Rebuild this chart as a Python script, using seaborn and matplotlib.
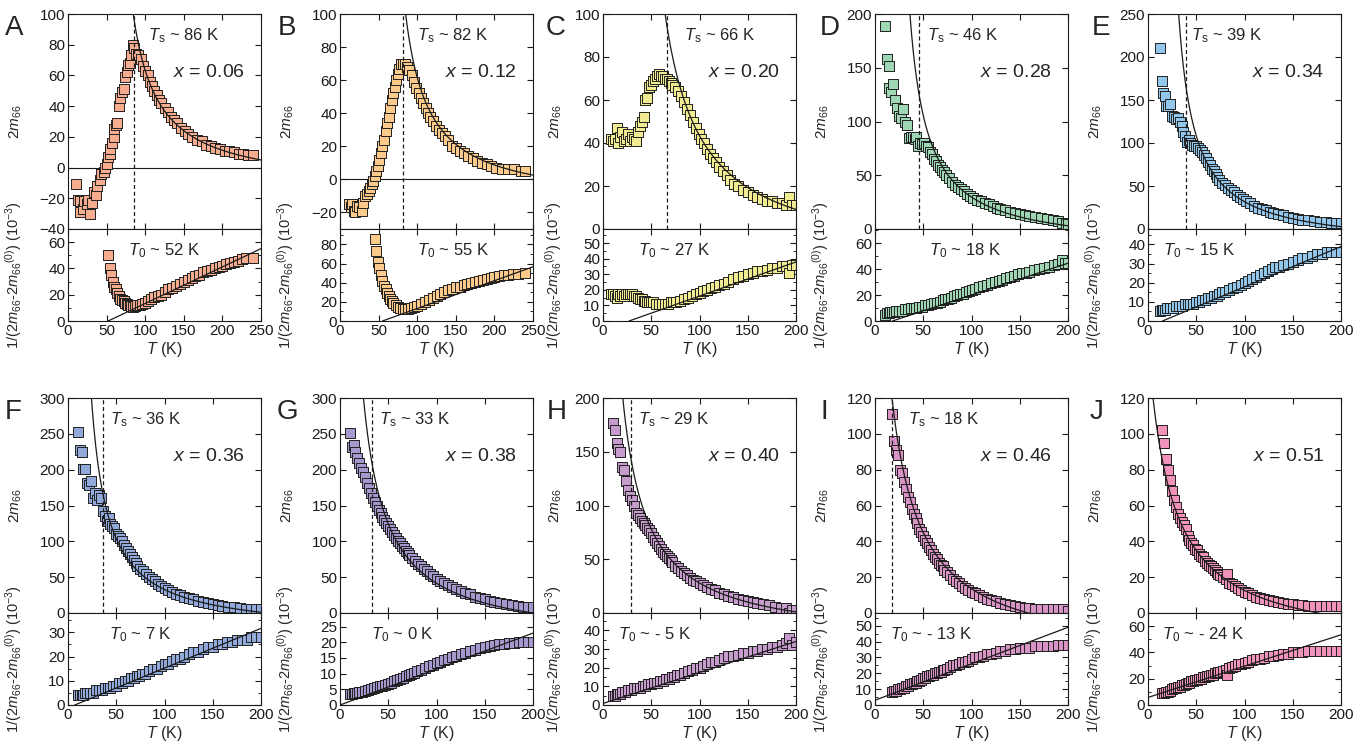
import numpy as np
import matplotlib
matplotlib.use("Agg")
import matplotlib.pyplot as plt
import seaborn as sns
from matplotlib.ticker import MultipleLocator

# ---------------- data ----------------
labels = ["A", "B", "C", "D", "E", "F", "G", "H", "I", "J"]
x_values = ["0.06", "0.12", "0.20", "0.28", "0.34", "0.36", "0.38", "0.40", "0.46", "0.51"]
Ts_values = [86, 82, 66, 46, 39, 36, 33, 29, 18, None]
T0_labels = ["52", "55", "27", "18", "15", "7", "0", "- 5", "- 13", "- 24"]

# Curie-Weiss fit parameters: 2m66 = m0 + C/(T - T0); lower line = slope*(T - T0)
fit_T0 = [52, 55, 27, 18, 15, 7, 0, -5, -13, -24]
fit_C = [3694, 3453, 4327, 3983, 4564, 5682, 8300, 5795, 4465, 4103]
fit_m0 = [-13.7, -15.1, -15.9, -18.9, -22, -28.4, -41.5, -27.3, -26, -20.5]
fit_slope = [0.278, 0.29, 0.219, 0.245, 0.21, 0.164, 0.1145, 0.166, 0.23, 0.2385]

# Panel A (x = 0.06)
A_T = [10, 13, 15, 16, 19, 21, 24, 26, 28, 31, 34, 36, 38, 41, 43, 46, 48, 50, 52, 54, 55, 57, 59, 60, 62, 64, 66, 68, 70, 72,
       74, 76, 78, 80, 82, 84, 86, 88, 91, 94, 97, 100, 103, 106, 109, 112, 115, 118, 121, 125, 129, 133, 137, 141, 146,
       151, 156, 161, 167, 173, 179, 185, 191, 197, 203, 209, 215, 221, 227, 233, 240]
A_up = [-11, -21, -22, -29, -27, -22, -24, -21, -30, -23, -16, -18, -12, -8, -4, -3, 0, 2, 7, 9, 12, 16, 20, 25, 28, 29, 40, 45,
        49, 51, 59, 62, 67, 68, 73, 80, 78, 74, 73, 71, 66, 63, 60, 56, 53, 50, 47, 44, 42, 39, 36, 33, 31, 29, 26, 24, 22,
        20, 18, 17, 15, 14, 13, 12, 11, 11, 10, 9, 9, 8, 8]
A_Tl = [52, 54, 56, 58, 60, 62, 64, 66, 68, 70, 72, 74, 76, 78, 80, 82, 84, 87, 90, 93, 96, 100, 104, 108, 112, 116, 120, 125,
        130, 135, 140, 145, 150, 155, 160, 165, 170, 175, 180, 185, 190, 195, 200, 205, 210, 215, 220, 225, 230, 240]
A_lo = [50, 40, 35, 30, 26, 24, 21, 19, 17, 16, 15, 14, 13, 12.5, 12, 11.5, 11, 11.5, 12, 12.5, 13, 14, 15, 16.5, 18, 19, 20,
        22, 24, 25, 27, 28, 30, 31, 33, 34, 35, 37, 38, 39, 40, 41, 42, 43, 44, 45, 46, 47, 48, 48]

# Panel B (x = 0.12)
B_T = [12, 14, 16, 18, 20, 22, 25, 28, 30, 32, 35, 37, 39, 41, 43, 45, 47, 49, 51, 53, 55, 57, 59, 61, 63, 65, 67, 69, 71, 73,
       75, 77, 79, 81, 84, 87, 90, 93, 96, 99, 102, 105, 108, 111, 114, 117, 120, 124, 128, 132, 136, 140, 145, 150, 155,
       160, 166, 172, 178, 184, 190, 196, 202, 210, 218, 226, 234, 240]
B_up = [-15, -17, -15, -19, -20, -16, -17, -19, -14, -10, -9, -7, -5, -3, -1, 2, 5, 8, 12, 16, 20, 24, 29, 34, 38, 43, 48, 52,
        56, 60, 64, 67, 70, 70, 70, 68, 66, 63, 59, 55, 52, 49, 46, 43, 40, 38, 35, 32, 30, 28, 26, 24, 20, 19, 17, 16, 14,
        13, 11, 10, 9, 8, 7, 6, 6, 6, 5, 5]
B_Tl = [45, 47, 49, 51, 53, 55, 57, 59, 61, 63, 65, 67, 69, 72, 75, 78, 81, 84, 88, 92, 96, 100, 105, 110, 115, 120, 125, 130,
        135, 140, 145, 150, 155, 160, 165, 170, 175, 180, 185, 190, 195, 200, 206, 212, 218, 224, 230, 240]
B_lo = [86, 73, 62, 55, 48, 42, 37, 33, 29, 26, 23, 21, 19, 17, 15, 14, 13, 13, 13, 14, 15, 16, 18, 20, 22, 24, 26, 28, 30, 32,
        33, 35, 36, 38, 39, 40, 41, 42, 43, 44, 45, 46, 47, 48, 48, 49, 49, 50]

# Panel C (x = 0.20)
C_T = [8, 10, 12, 14, 16, 18, 20, 22, 24, 26, 28, 30, 32, 34, 36, 38, 40, 42, 44, 46, 48, 50, 52, 54, 56, 58, 60, 62, 64, 66,
       68, 70, 72, 75, 78, 81, 84, 87, 90, 93, 96, 99, 102, 105, 108, 111, 114, 117, 120, 124, 128, 132, 136, 140, 145, 150,
       155, 160, 165, 170, 175, 180, 185, 190, 193, 196, 200]
C_up = [42, 41, 42, 47, 40, 43, 45, 41, 42, 44, 41, 43, 42, 41, 45, 48, 50, 52, 60, 61, 66, 67, 69, 70, 71, 72, 71, 71, 70, 70,
        69, 68, 67, 66, 64, 62, 59, 56, 53, 50, 47, 44, 42, 40, 37, 35, 33, 31, 29, 27, 25, 23, 21, 20, 18, 17, 16, 15, 14,
        13, 13, 12, 12, 11, 15, 11, 11]
C_Tl = [8, 10, 12, 14, 16, 18, 20, 22, 24, 26, 28, 30, 32, 34, 36, 38, 40, 42, 44, 46, 48, 50, 52, 55, 58, 61, 64, 67, 70, 73,
        76, 80, 84, 88, 92, 96, 100, 104, 108, 112, 116, 120, 125, 130, 135, 140, 145, 150, 155, 160, 165, 170, 175, 180,
        185, 190, 193, 196, 200]
C_lo = [17, 17, 16, 15, 17, 16, 17, 16, 17, 17, 17, 17, 16, 16, 15, 14, 14, 13, 13, 12, 12, 12, 12, 11, 11, 11, 11, 11, 12, 12,
        12, 13, 14, 15, 16, 17, 18, 19, 20, 21, 22, 23, 24, 25, 27, 28, 29, 30, 31, 32, 32, 33, 34, 34, 35, 35, 31, 36, 36]

# Panel D (x = 0.28)
D_T = [10, 12, 14, 15, 17, 19, 21, 23, 25, 27, 29, 31, 33, 35, 37, 39, 41, 43, 45, 47, 49, 51, 53, 55, 57, 59, 61, 63, 65, 67,
       69, 71, 74, 77, 80, 83, 86, 89, 92, 95, 98, 102, 106, 110, 114, 118, 122, 126, 130, 135, 140, 145, 150, 155, 160,
       166, 172, 178, 184, 190, 194, 198, 200]
D_up = [189, 158, 152, 131, 127, 135, 120, 113, 105, 103, 112, 100, 97, 85, 86, 86, 84, 86, 77, 80, 79, 80, 77, 76, 72, 70, 65,
        63, 60, 58, 55, 53, 50, 47, 44, 41, 39, 37, 35, 33, 31, 29, 27, 26, 24, 23, 21, 20, 19, 18, 16, 15, 14, 13, 12, 11,
        10, 9, 8, 7, 6, 5, 5]
D_Tl = [10, 12, 14, 16, 18, 20, 22, 25, 28, 31, 34, 37, 40, 43, 46, 49, 52, 55, 58, 61, 64, 67, 70, 73, 76, 79, 82, 85, 88, 91,
        94, 97, 100, 104, 108, 112, 116, 120, 124, 128, 132, 136, 140, 144, 148, 152, 156, 160, 165, 170, 175, 180, 185, 190,
        194, 197, 200]
D_lo = [5, 6, 6, 7, 7, 7, 8, 8, 8, 9, 9, 10, 10, 10, 11, 11, 12, 12, 13, 14, 14, 15, 16, 17, 17, 18, 19, 20, 21, 21, 22, 23, 24,
        25, 26, 27, 28, 29, 30, 31, 32, 33, 34, 35, 36, 37, 37, 38, 39, 40, 41, 42, 43, 44, 47, 45, 45]

# Panel E (x = 0.34)
E_T = [12, 14, 16, 18, 19, 21, 23, 25, 27, 29, 31, 33, 35, 36, 38, 40, 42, 44, 46, 48, 50, 52, 54, 56, 58, 60, 62, 64, 66, 68,
       70, 72, 74, 77, 80, 83, 86, 89, 92, 95, 98, 102, 106, 110, 114, 118, 122, 126, 130, 135, 140, 145, 150, 155, 160,
       166, 172, 178, 184, 190, 195, 200]
E_up = [210, 172, 158, 155, 143, 143, 145, 131, 130, 128, 129, 124, 120, 113, 108, 101, 104, 100, 98, 97, 96, 94, 92, 90, 86,
        82, 78, 74, 70, 67, 64, 60, 57, 54, 51, 48, 45, 43, 40, 37, 35, 32, 30, 27, 25, 23, 22, 20, 19, 17, 16, 14, 13, 12,
        11, 10, 9, 8, 8, 7, 7, 7]
E_Tl = [12, 14, 16, 18, 20, 23, 26, 29, 32, 35, 38, 41, 44, 47, 50, 53, 56, 59, 62, 65, 68, 71, 74, 77, 80, 84, 88, 92, 96, 100,
        104, 108, 112, 116, 120, 124, 128, 132, 136, 140, 145, 150, 155, 160, 165, 170, 175, 180, 185, 190, 195, 200]
E_lo = [5, 6, 6, 6, 7, 7, 7, 8, 8, 8, 9, 9, 9, 9, 10, 10, 11, 11, 12, 12, 13, 13, 14, 15, 15, 16, 17, 18, 19, 20, 21, 22, 23,
        24, 25, 26, 27, 28, 28, 29, 30, 31, 32, 33, 33, 34, 35, 35, 36, 36, 36, 36]

# Panel F (x = 0.36)
F_T = [10, 12, 14, 16, 18, 20, 22, 24, 26, 28, 30, 32, 34, 36, 38, 40, 42, 44, 46, 48, 50, 52, 54, 56, 58, 60, 62, 64, 66, 68,
       70, 72, 75, 78, 81, 84, 87, 90, 93, 96, 100, 104, 108, 112, 116, 120, 125, 130, 135, 140, 145, 150, 155, 160, 166,
       172, 178, 184, 190, 195, 200]
F_up = [252, 227, 224, 201, 201, 181, 178, 184, 160, 167, 157, 164, 160, 142, 135, 128, 132, 124, 121, 118, 110, 107, 104, 100,
        95, 91, 86, 82, 78, 74, 70, 66, 62, 58, 54, 50, 47, 44, 41, 38, 35, 32, 29, 27, 25, 23, 21, 19, 17, 15, 14, 12, 11,
        10, 9, 8, 7, 6, 6, 5, 5]
F_Tl = [10, 12, 14, 16, 18, 20, 23, 26, 29, 32, 35, 38, 41, 44, 47, 50, 53, 56, 59, 62, 65, 68, 71, 74, 77, 80, 84, 88, 92, 96,
        100, 104, 108, 112, 116, 120, 125, 130, 135, 140, 145, 150, 155, 160, 165, 170, 175, 180, 185, 190, 195, 200]
F_lo = [4, 4, 4, 4, 5, 5, 5, 5, 6, 6, 6, 7, 7, 7, 8, 8, 9, 9, 10, 10, 11, 11, 12, 12, 13, 13, 14, 15, 15, 16, 17, 17, 18, 19,
        19, 20, 21, 22, 22, 23, 24, 24, 25, 25, 26, 26, 27, 27, 27, 28, 28, 28]

# Panel G (x = 0.38)
G_T = [10, 12, 14, 16, 18, 20, 22, 24, 26, 28, 30, 32, 34, 36, 38, 40, 42, 44, 46, 48, 50, 52, 54, 56, 58, 60, 62, 64, 66, 68,
       70, 72, 75, 78, 81, 84, 87, 90, 93, 96, 100, 104, 108, 112, 116, 120, 125, 130, 135, 140, 145, 150, 155, 160, 166,
       172, 178, 184, 190, 195, 200]
G_up = [251, 232, 235, 224, 216, 209, 203, 197, 190, 182, 175, 168, 161, 155, 149, 144, 139, 134, 130, 125, 121, 117, 113, 109,
        105, 101, 98, 94, 91, 87, 84, 81, 77, 73, 69, 65, 62, 58, 55, 52, 48, 45, 42, 39, 36, 34, 31, 28, 26, 23, 21, 19, 17,
        16, 14, 12, 11, 10, 9, 9, 8]
G_Tl = [10, 12, 14, 16, 18, 20, 23, 26, 29, 32, 35, 38, 41, 44, 47, 50, 53, 56, 59, 62, 65, 68, 71, 74, 77, 80, 84, 88, 92, 96,
        100, 104, 108, 112, 116, 120, 125, 130, 135, 140, 145, 150, 155, 160, 165, 170, 175, 180, 185, 190, 195, 200]
G_lo = [3.5, 3.6, 3.7, 3.8, 3.9, 4, 4.2, 4.4, 4.7, 5, 5.3, 5.6, 5.9, 6.2, 6.5, 6.8, 7.1, 7.5, 7.9, 8.3, 8.7, 9.1, 9.5, 9.9,
        10.3, 10.7, 11.2, 11.8, 12.3, 12.8, 13.3, 13.8, 14.3, 14.8, 15.3, 15.7, 16.2, 16.7, 17.2, 17.6, 18, 18.4, 18.7, 19,
        19.3, 19.5, 19.7, 19.9, 20, 20, 20, 20]

# Panel H (x = 0.40)
H_T = [10, 12, 14, 16, 18, 20, 22, 24, 26, 28, 30, 32, 34, 36, 38, 40, 42, 44, 46, 48, 50, 52, 54, 56, 58, 60, 62, 64, 66, 68,
       70, 72, 75, 78, 81, 84, 87, 90, 93, 96, 100, 104, 108, 112, 116, 120, 125, 130, 135, 140, 145, 150, 155, 160, 166,
       172, 178, 184, 190, 193, 196, 200]
H_up = [177, 170, 158, 153, 150, 136, 133, 123, 114, 109, 105, 100, 93, 91, 88, 86, 84, 82, 79, 77, 74, 71, 68, 65, 62, 60, 57,
        55, 53, 51, 49, 47, 44, 42, 39, 37, 35, 33, 31, 30, 28, 26, 24, 22, 21, 19, 18, 16, 15, 13, 12, 11, 10, 9, 8, 7, 6,
        5, 5, 0, 3, 3]
H_Tl = [10, 12, 14, 16, 18, 20, 23, 26, 29, 32, 35, 38, 41, 44, 47, 50, 53, 56, 59, 62, 65, 68, 71, 74, 77, 80, 84, 88, 92, 96,
        100, 104, 108, 112, 116, 120, 125, 130, 135, 140, 145, 150, 155, 160, 165, 170, 175, 180, 185, 190, 193, 196, 200]
H_lo = [5, 5, 6, 6, 6, 7, 7, 8, 8, 9, 9, 9, 10, 10, 11, 11, 12, 12, 13, 13, 14, 14, 15, 15, 16, 16, 17, 18, 19, 20, 20, 21, 22,
        23, 23, 24, 25, 26, 26, 27, 28, 28, 29, 29, 30, 30, 31, 31, 32, 33, 36, 32, 34]

# Panel I (x = 0.46)
I_T = [18, 20, 22, 24, 26, 28, 30, 32, 34, 36, 38, 40, 42, 44, 46, 48, 50, 52, 54, 56, 58, 60, 62, 64, 66, 68, 70, 72, 75, 78,
       81, 84, 87, 90, 93, 96, 100, 104, 108, 112, 116, 120, 125, 130, 135, 140, 145, 150, 155, 160, 166, 172, 178, 184,
       190, 195, 200]
I_up = [111, 96, 91, 88, 80, 78, 73, 69, 65, 62, 58, 55, 53, 50, 47, 45, 43, 41, 39, 37, 35, 33, 31, 30, 28, 27, 26, 24, 23,
        21, 19, 18, 17, 15, 14, 13, 12, 11, 10, 9, 8, 7.5, 6.5, 5.5, 5, 4.5, 4, 3.5, 3, 3, 2.5, 2.5, 2, 2, 2, 2, 1]
I_Tl = [18, 20, 22, 24, 26, 28, 30, 32, 34, 36, 38, 40, 42, 44, 46, 48, 50, 52, 54, 56, 58, 60, 62, 64, 66, 68, 70, 72, 75, 78,
        81, 84, 87, 90, 93, 96, 100, 104, 108, 112, 116, 120, 125, 130, 135, 140, 145, 150, 155, 160, 166, 172, 178, 184,
        190, 195, 200]
I_lo = [8, 9, 9, 10, 10, 11, 11, 12, 12, 13, 13, 14, 14, 15, 15, 16, 17, 17, 18, 18, 19, 19, 20, 20, 21, 21, 22, 22, 23, 24,
        25, 25, 26, 27, 27, 28, 29, 30, 30, 31, 32, 32, 33, 34, 34, 35, 35, 36, 36, 36, 37, 37, 37, 37, 38, 38, 38]

# Panel J (x = 0.51)
J_T = [15, 17, 19, 21, 23, 25, 27, 29, 31, 33, 35, 37, 39, 41, 43, 45, 47, 49, 51, 53, 55, 57, 59, 61, 63, 65, 67, 69, 71, 73,
       75, 78, 81, 82, 84, 87, 90, 93, 96, 100, 104, 108, 112, 116, 120, 125, 130, 135, 140, 145, 150, 155, 160, 166, 172,
       178, 184, 190, 195, 200]
J_up = [102, 95, 86, 80, 74, 68, 63, 59, 55, 53, 51, 49, 47, 43, 41, 39, 38, 36, 35, 33, 32, 31, 29, 28, 27, 26, 25, 24, 23, 22,
        21, 20, 19, 22, 17, 16, 15, 14, 13, 12, 11, 10, 9, 8.5, 8, 7, 6.5, 6, 5.5, 5, 5, 4.5, 4.5, 4, 4, 4, 4, 4, 4, 4]
J_Tl = [15, 17, 19, 21, 23, 25, 27, 29, 31, 33, 35, 37, 39, 41, 43, 45, 47, 49, 51, 53, 55, 57, 59, 61, 63, 65, 67, 69, 71, 73,
        75, 78, 81, 82, 84, 87, 90, 93, 96, 100, 104, 108, 112, 116, 120, 125, 130, 135, 140, 145, 150, 155, 160, 166, 172,
        178, 184, 190, 195, 200]
J_lo = [9, 9, 10, 10, 11, 12, 13, 13, 14, 14, 15, 15, 16, 17, 17, 18, 18, 19, 19, 20, 20, 21, 21, 22, 22, 23, 23, 24, 24, 25,
        25, 26, 27, 23, 28, 29, 30, 31, 31, 32, 33, 34, 35, 35, 36, 37, 37, 38, 39, 39, 40, 40, 40, 41, 41, 41, 41, 41, 41, 41]

upper_T = [A_T, B_T, C_T, D_T, E_T, F_T, G_T, H_T, I_T, J_T]
upper_v = [A_up, B_up, C_up, D_up, E_up, F_up, G_up, H_up, I_up, J_up]
lower_T = [A_Tl, B_Tl, C_Tl, D_Tl, E_Tl, F_Tl, G_Tl, H_Tl, I_Tl, J_Tl]
lower_v = [A_lo, B_lo, C_lo, D_lo, E_lo, F_lo, G_lo, H_lo, I_lo, J_lo]

# ---------------- styling ----------------
colors = ["#F6AC8E", "#FCCB8C", "#F1EB92", "#9FD7B4", "#92C7EB",
          "#92AADB", "#A698CF", "#C69CCD", "#D894C5", "#F092BA"]
xmax = [250, 250, 200, 200, 200, 200, 200, 200, 200, 200]
up_lim = [(-40, 100), (-30, 100), (0, 100), (0, 200), (0, 250), (0, 300), (0, 300), (0, 200), (0, 120), (0, 120)]
up_step = [20, 20, 20, 50, 50, 50, 50, 50, 20, 20]
up_tick_min = [-40, -20, 0, 0, 0, 0, 0, 0, 0, 0]
lo_lim = [70, 96, 59, 71, 48, 38, 29.3, 49.3, 58, 70]
lo_step = [20, 20, 10, 20, 10, 10, 5, 10, 10, 20]
lo_minor = [10, 10, 5, 10, 5, 5, None, 5, 5, 10]
ts_xpos = [0.415, 0.40, 0.42, 0.27, 0.225, 0.22, 0.20, 0.18, 0.17, None]
t0_xpos = [0.31, 0.40, 0.18, 0.28, 0.08, 0.21, 0.16, 0.08, 0.08, 0.07]
letter_px = [5, 278, 546, 820, 1092, 5, 277, 547, 820, 1090]
ylabel_off = [44, 44, 39, 44, 44]

sns.set_theme(style="ticks")
plt.rcParams["font.family"] = ["Liberation Sans", "DejaVu Sans"]
plt.rcParams["mathtext.fontset"] = "custom"
plt.rcParams["mathtext.rm"] = "Liberation Sans"
plt.rcParams["mathtext.it"] = "Liberation Sans:italic"
plt.rcParams["mathtext.bf"] = "Liberation Sans:bold"
plt.rcParams["axes.linewidth"] = 0.8

W, H = 1370, 751
fig = plt.figure(figsize=(W / 100, H / 100), dpi=100)
col_left = [68, 340, 603, 875, 1148]
ax_w = 193
rows = [(14, 229, 321), (398, 613, 705)]

for i in range(10):
    r, c = divmod(i, 5)
    top, mid, bot = rows[r]
    left = col_left[c] / W
    axu = fig.add_axes([left, 1 - mid / H, ax_w / W, (mid - top) / H])
    axl = fig.add_axes([left, 1 - bot / H, ax_w / W, (bot - mid) / H])
    col = colors[i]

    for ax, Tv, yv in ((axu, upper_T[i], upper_v[i]), (axl, lower_T[i], lower_v[i])):
        sns.scatterplot(x=Tv, y=yv, ax=ax, marker="s", s=46, color=col,
                        edgecolor="#202020", linewidth=0.7, zorder=2, legend=False)

    # fits
    T0, C, m0, sl = fit_T0[i], fit_C[i], fit_m0[i], fit_slope[i]
    Tf = np.linspace(T0 + 0.2, xmax[i], 800)
    Tf = Tf[Tf > 0]
    axu.plot(Tf, m0 + C / (Tf - T0), color="k", lw=0.9, zorder=3)
    Tl = np.array([max(T0, 0), xmax[i]])
    axl.plot(Tl, sl * (Tl - T0), color="k", lw=0.9, zorder=3)

    if Ts_values[i] is not None:
        axu.axvline(Ts_values[i], color="k", lw=0.9, ls=(0, (3.2, 2.2)), zorder=3)
    if up_lim[i][0] < 0:
        axu.axhline(0, color="k", lw=0.8, zorder=1)

    for ax in (axu, axl):
        ax.set_xlim(0, xmax[i])
        ax.set_xticks(np.arange(0, xmax[i] + 1, 50))
        ax.tick_params(direction="in", top=True, right=True, length=4, width=0.8,
                       labelsize=11, pad=2, colors="k")
        ax.tick_params(which="minor", direction="in", top=True, right=True, length=2.3, width=0.7)
        for s in ax.spines.values():
            s.set_color("k")
            s.set_linewidth(0.8)
        ax.set_xlabel("")
        ax.set_ylabel("")

    axu.set_ylim(*up_lim[i])
    axu.set_yticks(np.arange(up_tick_min[i], up_lim[i][1] + 0.1, up_step[i]))
    axu.tick_params(labelbottom=False)
    axl.set_ylim(0, lo_lim[i])
    axl.set_yticks(np.arange(0, lo_lim[i] + 0.01, lo_step[i]))
    if lo_minor[i]:
        axl.yaxis.set_minor_locator(MultipleLocator(lo_minor[i]))

    off = ylabel_off[c]
    axu.set_ylabel(r"2$m_{66}$", fontsize=11)
    axu.yaxis.set_label_coords(-off / ax_w, 0.5)
    axl.set_ylabel(r"1/(2$m_{66}$-2$m_{66}{}^{(0)}$) (10$^{-3}$)", fontsize=10.5)
    axl.yaxis.set_label_coords(-off / ax_w, 0.5)
    axl.set_xlabel(r"$T$ (K)", fontsize=11.5, labelpad=1.5)

    if Ts_values[i] is not None:
        axu.text(ts_xpos[i], 0.90, r"$T_{\rm s}$ ~ %d K" % Ts_values[i], transform=axu.transAxes,
                 fontsize=12, ha="left", va="center")
    axu.text(0.915, 0.73, r"$x$ = " + x_values[i], transform=axu.transAxes,
             fontsize=14, ha="right", va="center")
    axl.text(t0_xpos[i], 0.77, r"$T_0$ ~ " + T0_labels[i] + " K", transform=axl.transAxes,
             fontsize=12, ha="left", va="center")

    fig.text(letter_px[i] / W, 1 - (top + 1) / H, labels[i], fontsize=20, ha="left", va="top")

fig.savefig("out.png", dpi=100)
